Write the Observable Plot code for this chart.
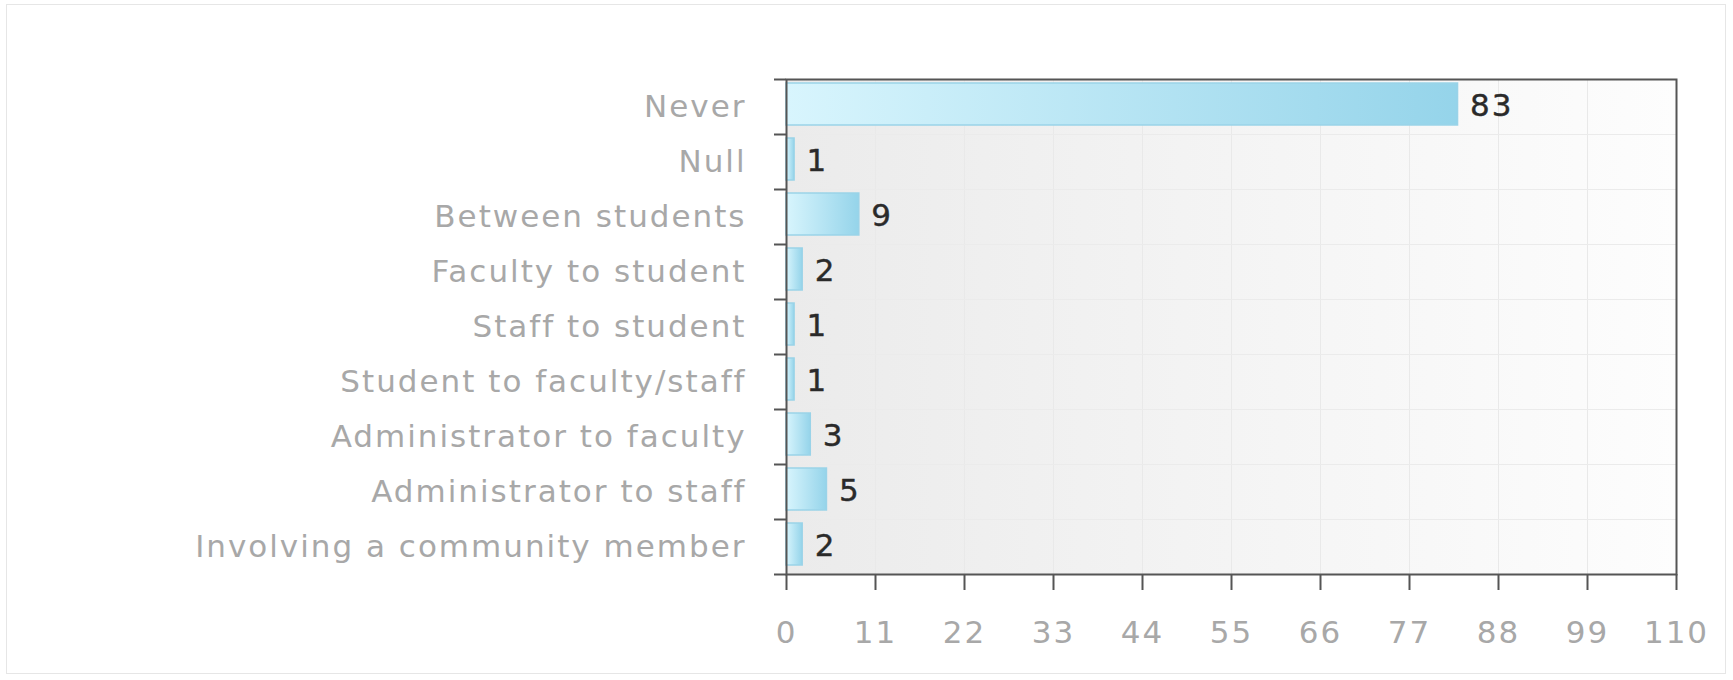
<!DOCTYPE html>
<html><head><meta charset="utf-8">
<script src="https://cdn.jsdelivr.net/npm/d3@7"></script>
<script src="https://cdn.jsdelivr.net/npm/@observablehq/plot@0.6"></script>
<style>
body{margin:0;background:#fff;}
#wrap{position:relative;width:1733px;height:680px;}
#border{position:absolute;left:6px;top:4px;width:1720px;height:670px;border:1px solid #e6e6e6;box-sizing:border-box;pointer-events:none;}
</style></head><body><div id="wrap"><div id="border"></div></div>
<script>
const categories = ["Never","Null","Between students","Faculty to student","Staff to student","Student to faculty/staff","Administrator to faculty","Administrator to staff","Involving a community member"];
const counts = [83,1,9,2,1,1,3,5,2];
const xTicks = [0,11,22,33,44,55,66,77,88,99,110];

const data = categories.map((c,i)=>({category:c, count:counts[i], row:i}));
const rows = d3.range(categories.length+1);
const centers = d3.range(categories.length).map(i=>i+0.5);

const svg = Plot.plot({
  width:1733, height:680,
  marginLeft:786, marginRight:57, marginTop:79, marginBottom:106,
  style:{fontFamily:"'DejaVu Sans', Verdana, sans-serif", fontSize:"30px", letterSpacing:"2px", background:"transparent"},
  x:{domain:[0,110], label:null},
  y:{domain:[categories.length,0], label:null},
  marks:[
    Plot.frame({fill:"url(#bgGrad)", ariaLabel:"bg"}),
    Plot.gridX(xTicks, {stroke:"#e9e9e9", strokeOpacity:1}),
    Plot.gridY(rows, {stroke:"#ebebeb", strokeOpacity:1}),
    Plot.rectX(data, {x1:0, x2:"count", y1:"row", y2:d=>d.row+1, insetTop:4, insetBottom:9, fill:"url(#barGrad)", stroke:"#9ad3e8", strokeWidth:1.5}),
    Plot.text(data, {x:"count", y:d=>d.row+0.5, text:d=>String(d.count), textAnchor:"start", dx:12, dy:-1, fill:"#2a2a2a", fontSize:31, stroke:"#2a2a2a", strokeWidth:0.4}),
    Plot.axisY(rows, {tickSize:12, tickFormat:()=>"", stroke:"#555", strokeWidth:2, label:null}),
    Plot.axisY(centers, {tickSize:0, tickPadding:40, tickFormat:v=>categories[Math.floor(v)], fill:"#a8a8a8", fontSize:31, label:null}),
    Plot.axisX(xTicks, {tickSize:16, tickPadding:30, stroke:"#555", strokeWidth:2, fill:"#a8a8a8", fontSize:31, label:null}),
    Plot.frame({stroke:"#555", strokeWidth:2, ariaLabel:"border"})
  ]
});

const s = d3.select(svg);
const defs = s.insert("defs", ":first-child");
const bg = defs.append("linearGradient").attr("id","bgGrad").attr("x1","0").attr("x2","1").attr("y1","0").attr("y2","0");
bg.append("stop").attr("offset","0").attr("stop-color","#ebebeb");
bg.append("stop").attr("offset","1").attr("stop-color","#fdfdfd");
const bar = defs.append("linearGradient").attr("id","barGrad").attr("x1","0").attr("x2","1").attr("y1","0").attr("y2","0");
bar.append("stop").attr("offset","0").attr("stop-color","#d8f5fd");
bar.append("stop").attr("offset","1").attr("stop-color","#95d4ea");
const f = defs.append("filter").attr("id","shadow").attr("x","-5%").attr("y","-5%").attr("width","110%").attr("height","110%");
f.append("feDropShadow").attr("dx",1.5).attr("dy",2).attr("stdDeviation",1.5).attr("flood-color","#000").attr("flood-opacity",0.45);
s.selectAll('g[aria-label="border"]').attr("filter","url(#shadow)");

document.getElementById("wrap").appendChild(svg);
</script>
</body></html>
